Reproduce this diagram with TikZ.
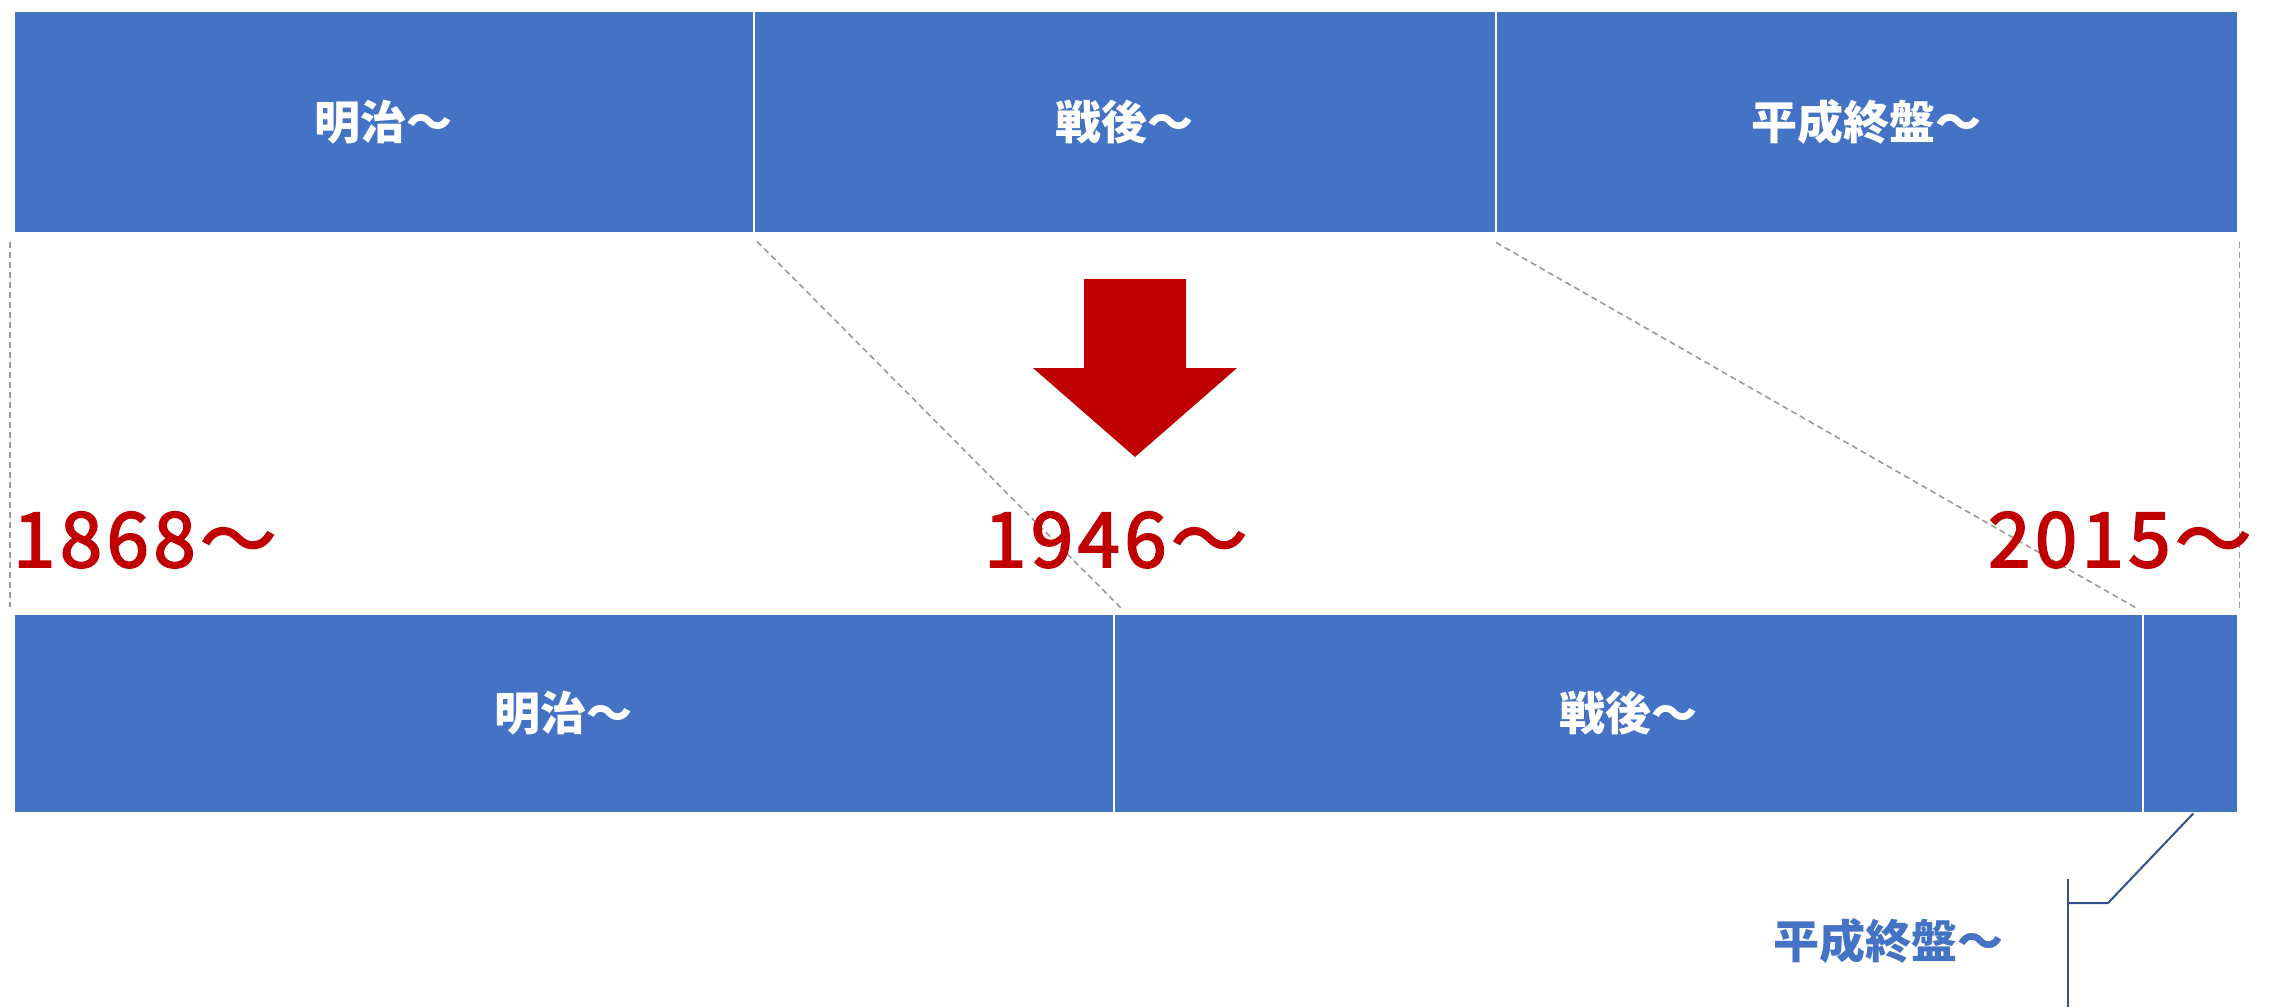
\documentclass[tikz,border=0pt]{standalone}
\usepackage{fontspec}
\setmainfont{Noto Sans CJK JP}
\newfontfamily\yearfont{Noto Sans CJK JP}[LetterSpace=6,FakeBold=2.5]
\usetikzlibrary{calc}
\definecolor{boxblue}{HTML}{4472C4}
\definecolor{yearred}{HTML}{C00000}
\definecolor{guidegray}{HTML}{9A9A9A}
\definecolor{calloutblue}{HTML}{2F528F}
\begin{document}
\begin{tikzpicture}[x=1pt,y=-1pt,
  period/.style={fill=boxblue, draw=white, line width=1.5pt, anchor=north west, inner sep=0pt, text=white, font=\fontsize{46}{50}\selectfont\bfseries},
  year/.style={text=yearred, font=\yearfont\fontsize{76}{80}\selectfont, inner sep=0pt, anchor=base west},
  guide/.style={draw=guidegray, line width=1.6pt, dash pattern=on 6pt off 4pt},
  callout/.style={draw=calloutblue, line width=2pt}]
\useasboundingbox (0,0) rectangle (2269,1007);
% top row
\node[period, minimum width=740, minimum height=222] (t1) at (13,10) {明治～};
\node[period, minimum width=742, minimum height=222] (t2) at (753,10) {戦後～};
\node[period, minimum width=742, minimum height=222] (t3) at (1495,10) {平成終盤～};
% bottom row
\node[period, minimum width=1100, minimum height=199] (b1) at (13,613) {明治～};
\node[period, minimum width=1029, minimum height=199] (b2) at (1113,613) {戦後～};
\node[period, minimum width=95, minimum height=199] (b3) at (2142,613) {};
% guides
\draw[guide] ([shift={(-3,8)}]t1.south west) -- ([shift={(-3,-6)}]b1.north west);
\draw[guide] ([shift={(4,8)}]t2.south west) -- ([shift={(10,-3)}]b2.north west);
\draw[guide] ([shift={(1,9)}]t3.south west) -- ([shift={(-4,-4)}]b3.north west);
\draw[guide] ([shift={(1,8)}]t3.south east) -- ([shift={(1,-4)}]b3.north east);
% arrow
\fill[yearred] (1084,279) -- (1186,279) -- (1186,368) -- (1237,368) -- (1135,457) -- (1033,368) -- (1084,368) -- cycle;
% years
\node[year] (y1) at (13,567) {1868～};
\node[year] (y2) at (984,567) {1946～};
\node[year] (y3) at (1988,567) {2015～};
% callout
\node[text=boxblue, font=\fontsize{46}{50}\selectfont\bfseries, anchor=east, inner sep=0pt] (lbl) at (2004,941) {平成終盤～};
\coordinate (barTop) at (2068,879);
\coordinate (barBot) at (2068,1007);
\coordinate (elbowA) at (2068,903);
\coordinate (elbowB) at (2108,903);
\draw[callout] (barTop) -- (barBot);
\draw[callout] (elbowA) -- (elbowB) -- ([xshift=3]b3.south);
\end{tikzpicture}
\end{document}
